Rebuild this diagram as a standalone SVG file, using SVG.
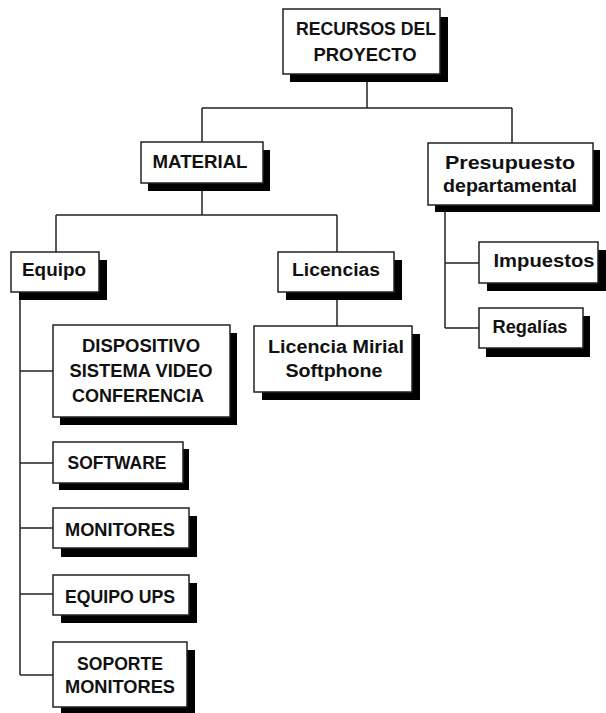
<svg xmlns="http://www.w3.org/2000/svg" width="606" height="713" viewBox="0 0 606 713">
  <style>
    .shadow { fill: #000; }
    .box { fill: #fff; stroke: #222; stroke-width: 1.5; }
    .lbl { font-family: "Liberation Sans", Arial, sans-serif; font-weight: bold; font-size: 17.5px; fill: #111; }
    .link { fill: none; stroke: #222; stroke-width: 1.5; }
  </style>
  <rect width="606" height="713" fill="#fff"/>

  <!-- connectors -->
  <g id="connectors" class="link">
    <path d="M367 74 V108 M202 108 H512 M202 108 V142 M512 108 V143"/>
    <path d="M202 183 V215 M56 215 H337 M56 215 V252 M337 215 V252"/>
    <path d="M337 292 V326"/>
    <path d="M20 300 V675 M20 371 H53 M20 463 H53 M20 528 H53 M20 594 H53 M20 675 H53"/>
    <path d="M445 205 V328 M445 263 H479 M445 328 H479"/>
  </g>

  <g id="recursos">
    <rect class="shadow" x="290" y="17" width="158" height="65"/>
    <rect class="box" x="283" y="9" width="157" height="65"/>
    <text class="lbl" x="366" y="35" text-anchor="middle" textLength="140" lengthAdjust="spacingAndGlyphs">RECURSOS DEL</text>
    <text class="lbl" x="365" y="61" text-anchor="middle" textLength="103" lengthAdjust="spacingAndGlyphs">PROYECTO</text>
  </g>

  <g id="material">
    <rect class="shadow" x="148" y="150" width="122" height="41"/>
    <rect class="box" x="141" y="142" width="122" height="41"/>
    <text class="lbl" x="200" y="168" text-anchor="middle" textLength="95" lengthAdjust="spacingAndGlyphs">MATERIAL</text>
  </g>

  <g id="presupuesto">
    <rect class="shadow" x="435" y="150" width="165" height="62"/>
    <rect class="box" x="428" y="143" width="165" height="62"/>
    <text class="lbl" x="510" y="169" text-anchor="middle" textLength="130" lengthAdjust="spacingAndGlyphs">Presupuesto</text>
    <text class="lbl" x="510" y="192" text-anchor="middle" textLength="134" lengthAdjust="spacingAndGlyphs">departamental</text>
  </g>

  <g id="equipo">
    <rect class="shadow" x="19" y="260" width="88" height="40"/>
    <rect class="box" x="11" y="252" width="88" height="40"/>
    <text class="lbl" x="54" y="276" text-anchor="middle" textLength="64" lengthAdjust="spacingAndGlyphs">Equipo</text>
  </g>

  <g id="licencias">
    <rect class="shadow" x="286" y="260" width="116" height="40"/>
    <rect class="box" x="278" y="252" width="116" height="40"/>
    <text class="lbl" x="336" y="276" text-anchor="middle" textLength="88" lengthAdjust="spacingAndGlyphs">Licencias</text>
  </g>

  <g id="licencia-mirial">
    <rect class="shadow" x="262" y="334" width="158" height="66"/>
    <rect class="box" x="254" y="326" width="158" height="66"/>
    <text class="lbl" x="336" y="353" text-anchor="middle" textLength="136" lengthAdjust="spacingAndGlyphs">Licencia Mirial</text>
    <text class="lbl" x="334" y="377" text-anchor="middle" textLength="97" lengthAdjust="spacingAndGlyphs">Softphone</text>
  </g>

  <g id="impuestos">
    <rect class="shadow" x="487" y="250" width="119" height="41"/>
    <rect class="box" x="479" y="242" width="119" height="41"/>
    <text class="lbl" x="544" y="267" text-anchor="middle" textLength="101" lengthAdjust="spacingAndGlyphs">Impuestos</text>
  </g>

  <g id="regalias">
    <rect class="shadow" x="486" y="316" width="104" height="41"/>
    <rect class="box" x="479" y="308" width="104" height="40"/>
    <text class="lbl" x="530" y="333" text-anchor="middle" textLength="75" lengthAdjust="spacingAndGlyphs">Regalías</text>
  </g>

  <g id="dispositivo">
    <rect class="shadow" x="60" y="333" width="177" height="92"/>
    <rect class="box" x="53" y="325" width="177" height="92"/>
    <text class="lbl" x="141" y="352" text-anchor="middle" textLength="118" lengthAdjust="spacingAndGlyphs">DISPOSITIVO</text>
    <text class="lbl" x="141" y="377" text-anchor="middle" textLength="143" lengthAdjust="spacingAndGlyphs">SISTEMA VIDEO</text>
    <text class="lbl" x="138" y="402" text-anchor="middle" textLength="132" lengthAdjust="spacingAndGlyphs">CONFERENCIA</text>
  </g>

  <g id="software">
    <rect class="shadow" x="59" y="449" width="130" height="41"/>
    <rect class="box" x="53" y="442" width="130" height="41"/>
    <text class="lbl" x="117" y="469" text-anchor="middle" textLength="99" lengthAdjust="spacingAndGlyphs">SOFTWARE</text>
  </g>

  <g id="monitores">
    <rect class="shadow" x="61" y="516" width="136" height="41"/>
    <rect class="box" x="53" y="508" width="136" height="40"/>
    <text class="lbl" x="120" y="536" text-anchor="middle" textLength="110" lengthAdjust="spacingAndGlyphs">MONITORES</text>
  </g>

  <g id="equipo-ups">
    <rect class="shadow" x="61" y="583" width="136" height="40"/>
    <rect class="box" x="53" y="575" width="136" height="40"/>
    <text class="lbl" x="120" y="603" text-anchor="middle" textLength="110" lengthAdjust="spacingAndGlyphs">EQUIPO UPS</text>
  </g>

  <g id="soporte-monitores">
    <rect class="shadow" x="61" y="650" width="134" height="63"/>
    <rect class="box" x="53" y="642" width="134" height="65"/>
    <text class="lbl" x="120" y="670" text-anchor="middle" textLength="86" lengthAdjust="spacingAndGlyphs">SOPORTE</text>
    <text class="lbl" x="120" y="693" text-anchor="middle" textLength="110" lengthAdjust="spacingAndGlyphs">MONITORES</text>
  </g>
</svg>
